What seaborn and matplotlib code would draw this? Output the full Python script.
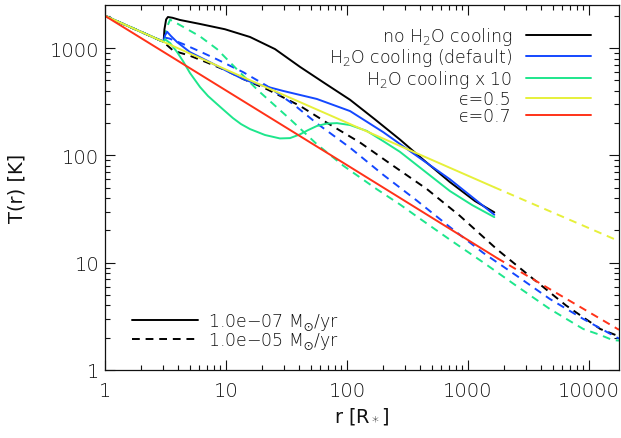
import matplotlib
matplotlib.use("Agg")
import matplotlib.pyplot as plt
import seaborn as sns
from matplotlib.lines import Line2D
from matplotlib.ticker import FixedLocator, FuncFormatter, LogLocator, NullFormatter

# ---- temperature profiles T(r) ----
# Mdot = 1e-7 Msun/yr (solid)
r_noh2o = [1, 3.05, 3.1, 3.2, 3.31, 3.6, 4.17, 6.1, 9.8, 15.8, 25.4, 40.8, 65.6, 106, 170, 273, 438, 708, 1140, 1650]
t_noh2o = [2000, 1145, 1500, 1850, 1950, 1920, 1830, 1680, 1500, 1270, 980, 670, 470, 330, 217, 141, 89, 56.5, 37.6, 29.5]

r_h2o = [1, 3.05, 3.12, 3.26, 3.5, 3.94, 5.04, 7.37, 10.2, 13.8, 18.0, 29.7, 56.3, 106, 199, 377, 708, 1650]
t_h2o = [2000, 1145, 1300, 1422, 1300, 1139, 917, 740, 610, 515, 463, 399, 336, 259, 165, 99, 60, 28]

r_h2o10 = [1, 3.05, 3.13, 3.45, 3.94, 4.41, 5.04, 6.1, 7.1, 8.43, 9.8, 11.4, 13.3, 15.8, 21.0, 27.9, 33.8,
           40.8, 47.6, 56.3, 68, 82.6, 106, 146, 199, 274, 377, 708, 1080, 1650]
t_h2o10 = [2000, 1145, 1210, 1115, 920, 758, 586, 434, 358, 301, 259, 223, 196, 176, 155, 144, 145,
           157, 172, 188, 198, 200, 192, 169, 136, 108, 81.4, 46.6, 34.5, 26.6]

r_eps05 = [1, 13.9, 1650]
t_eps05 = [2000, 535, 50.5]

r_eps07 = [1, 106, 1750]
t_eps07 = [2000, 78, 11.0]

# Mdot = 1e-5 Msun/yr (dashed)
r_noh2o_d = [1, 3.03, 3.67, 5.04, 6.9, 10.1, 13.9, 21.7, 40.8, 67.6, 128, 241, 457, 855, 1740, 3440, 6450, 12400, 17700]
t_noh2o_d = [2000, 1145, 946, 849, 738, 617, 515, 415, 290, 203, 132, 80, 48.6, 27.4, 13.3, 7.1, 4.0, 2.41, 2.06]

r_h2o_d = [1, 3.05, 3.15, 3.4, 4.43, 6.1, 8.35, 13.9, 21.7, 36, 56, 106, 199, 377, 708, 1330, 2520, 4750, 8970, 17700]
t_h2o_d = [2000, 1145, 1250, 1230, 1091, 930, 790, 596, 446, 300, 200, 118, 66, 38, 21.5, 12.4, 7.57, 4.59, 2.99, 1.96]

r_h2o10_d = [1, 3.05, 3.2, 3.45, 3.94, 6.1, 8.43, 13.0, 18.5, 33.8, 56, 93.5, 176, 273, 377, 708, 1330, 2520, 4750, 8970, 12400, 15700, 17700]
t_h2o10_d = [2000, 1145, 1500, 1842, 1700, 1286, 980, 596, 401, 218, 128, 80, 48.5, 35, 27, 16.4, 10.1, 6.07, 3.7, 2.41, 2.12, 1.9, 1.88]

r_eps05_d = [1650, 17700]
t_eps05_d = [50.5, 15.9]

r_eps07_d = [1750, 17700]
t_eps07_d = [11.0, 2.37]

model_labels = ["no H$_2$O cooling", "H$_2$O cooling (default)", "H$_2$O cooling x 10",
                "\u03f5=0.5", "\u03f5=0.7"]
model_colors = ["#000000", "#1448ff", "#1ee68c", "#e6f03a", "#ff3218"]
mdot_labels = ["1.0e\u221207 M$_{\\odot}$/yr", "1.0e\u221205 M$_{\\odot}$/yr"]

x_ticks = [1, 10, 100, 1000, 10000]
y_ticks = [1, 10, 100, 1000]

sns.set_style("ticks")
plt.rcParams["font.family"] = ["DejaVu Sans"]
plt.rcParams["font.weight"] = "light"
plt.rcParams["mathtext.fontset"] = "dejavusans"

W, H = 621, 439
fig = plt.figure(figsize=(W / 100, H / 100), dpi=100)
x0, x1, ytop, ybot = 105, 619, 5.7, 371
ax = fig.add_axes([x0 / W, (H - ybot) / H, (x1 - x0) / W, (ybot - ytop) / H])

LW = 1.4
dash = (0, (4.0, 3.0))
txt_col = "#111111"

dashed_sets = [(r_noh2o_d, t_noh2o_d), (r_h2o_d, t_h2o_d), (r_h2o10_d, t_h2o10_d),
               (r_eps05_d, t_eps05_d), (r_eps07_d, t_eps07_d)]
solid_sets = [(r_noh2o, t_noh2o), (r_h2o, t_h2o), (r_h2o10, t_h2o10),
              (r_eps05, t_eps05), (r_eps07, t_eps07)]

for (r, t), c in zip(dashed_sets, model_colors):
    sns.lineplot(x=r, y=t, ax=ax, color=c, lw=LW, linestyle=dash,
                 estimator=None, sort=False)
for (r, t), c in zip(solid_sets, model_colors):
    sns.lineplot(x=r, y=t, ax=ax, color=c, lw=LW, linestyle="-",
                 estimator=None, sort=False)

ax.set_xscale("log")
ax.set_yscale("log")
ax.set_xlim(1, 17700)
ax.set_ylim(1, 2540)

ax.xaxis.set_major_locator(FixedLocator(x_ticks))
ax.yaxis.set_major_locator(FixedLocator(y_ticks))
ax.xaxis.set_minor_locator(LogLocator(base=10, subs=range(2, 10), numticks=20))
ax.yaxis.set_minor_locator(LogLocator(base=10, subs=range(2, 10), numticks=20))
fmt = FuncFormatter(lambda v, p: f"{int(round(v))}")
ax.xaxis.set_major_formatter(fmt)
ax.yaxis.set_major_formatter(fmt)
ax.xaxis.set_minor_formatter(NullFormatter())
ax.yaxis.set_minor_formatter(NullFormatter())

ax.tick_params(which="both", direction="in", top=True, right=True,
               color=txt_col, width=0.8, labelsize=14, labelcolor=txt_col)
ax.tick_params(which="major", length=7.2)
ax.tick_params(which="minor", length=3.6)
ax.tick_params(axis="x", which="major", pad=8)
ax.tick_params(axis="y", which="major", pad=4)
for s in ax.spines.values():
    s.set_linewidth(0.9)
    s.set_color(txt_col)

ax.set_xlabel("r [R$_*$]", fontsize=14, color=txt_col, labelpad=4)
ax.set_ylabel("T(r) [K]", fontsize=14, color=txt_col, labelpad=17)

fs_leg = 12.5
h_models = [Line2D([], [], color=c, lw=LW) for c in model_colors]
leg1 = ax.legend(h_models, model_labels, loc="upper right",
                 bbox_to_anchor=(0.9455, 0.945), frameon=False, markerfirst=False,
                 fontsize=fs_leg, handlelength=3.75, handletextpad=0.8,
                 labelspacing=-0.02, borderpad=0, borderaxespad=0)
for txt in leg1.get_texts():
    txt.set_color(txt_col)
ax.add_artist(leg1)

h_mdot = [Line2D([], [], color="black", lw=LW),
          Line2D([], [], color="black", lw=LW, linestyle=dash)]
leg2 = ax.legend(h_mdot, mdot_labels, loc="upper left",
                 bbox_to_anchor=(0.0525, 0.16), frameon=False,
                 fontsize=fs_leg, handlelength=3.8, handletextpad=0.6,
                 labelspacing=-0.1, borderpad=0, borderaxespad=0)
for txt in leg2.get_texts():
    txt.set_color(txt_col)

fig.savefig("out.png", dpi=100)
